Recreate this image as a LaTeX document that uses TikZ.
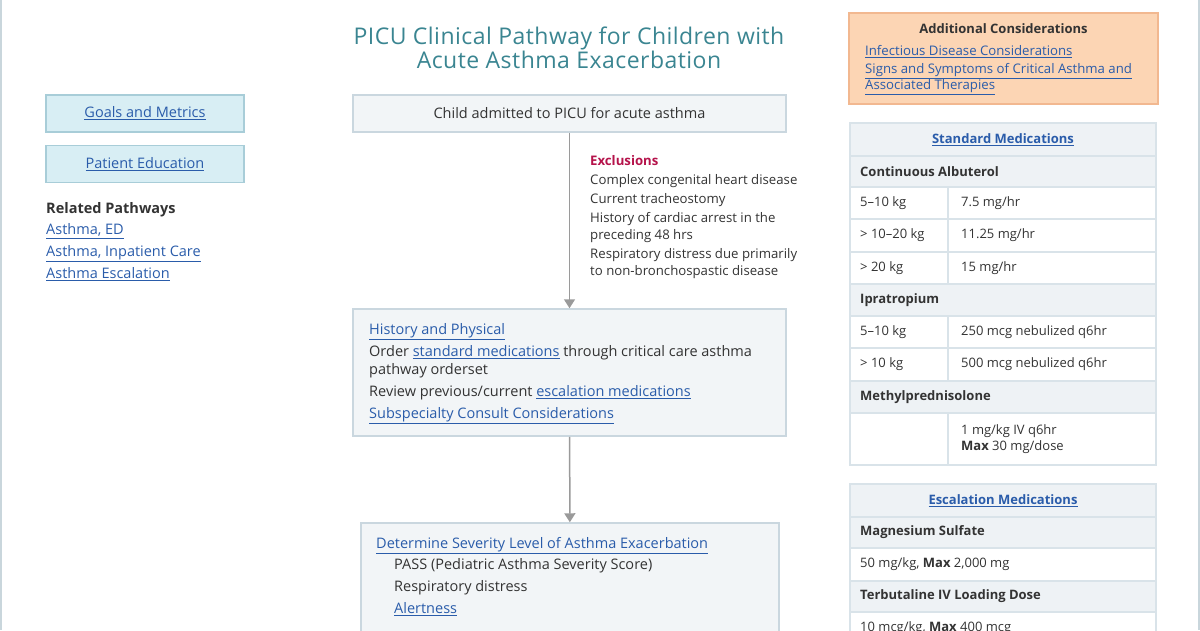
\documentclass[tikz,border=0pt]{standalone}
\usepackage{fontspec}
\setmainfont{Open Sans}
\usetikzlibrary{arrows.meta,positioning}
\definecolor{ink}{HTML}{333333}
\definecolor{linkblue}{HTML}{2A5CAA}
\definecolor{titleteal}{HTML}{3A8591}
\definecolor{navfill}{HTML}{D8EEF4}
\definecolor{navline}{HTML}{A8CDD8}
\definecolor{stepfill}{HTML}{F2F5F7}
\definecolor{stepline}{HTML}{CAD7DF}
\definecolor{peachfill}{HTML}{FCD5B4}
\definecolor{peachline}{HTML}{F2B890}
\definecolor{cellfill}{HTML}{EEF2F5}
\definecolor{cellline}{HTML}{D9E3E9}
\definecolor{arrowgray}{HTML}{9A9A9A}
\definecolor{exclred}{HTML}{B5134B}
\definecolor{pageline}{HTML}{C9D6DC}
\newcommand{\lnk}[1]{\textcolor{linkblue}{\underline{#1}}}
% table rows: name, top, bottom, ...
\newcommand{\medtitle}[4]{%
  \node[cell, fill=cellfill, minimum width=306pt, minimum height={(#3-#2)*1pt}] (#1) at (1003,{(#2+#3)/2}) {};
  \node[celltext, anchor=center] (#1-txt) at (#1) {\lnk{\textbf{#4}}};}
\newcommand{\drugrow}[4]{%
  \node[cell, fill=cellfill, minimum width=306pt, minimum height={(#3-#2)*1pt}] (#1) at (1003,{(#2+#3)/2}) {};
  \node[celltext] (#1-txt) at (860,{(#2+#3)/2}) {\textbf{#4}};}
\newcommand{\doserow}[5]{%
  \node[cell, minimum width=98pt, minimum height={(#3-#2)*1pt}] (#1-kg) at (899,{(#2+#3)/2}) {};
  \node[cell, minimum width=208pt, minimum height={(#3-#2)*1pt}] (#1-dose) at (1052,{(#2+#3)/2}) {};
  \node[celltext] (#1-kgtxt) at (860,{(#2+#3)/2}) {#4};
  \node[celltext] (#1-dosetxt) at (961,{(#2+#3)/2}) {#5};}
\newcommand{\widerow}[4]{%
  \node[cell, minimum width=306pt, minimum height={(#3-#2)*1pt}] (#1) at (1003,{(#2+#3)/2}) {};
  \node[celltext] (#1-txt) at (860,{(#2+#3)/2}) {#4};}

\begin{document}
\begin{tikzpicture}[
  x=1pt, y=-1pt,
  bodyfont/.style={font=\fontsize{14.5}{18}\selectfont},
  navbox/.style={draw=navline, fill=navfill, line width=1.5pt, minimum width=198pt,
    minimum height=37pt, inner sep=0pt, font=\fontsize{14.5}{16}\selectfont},
  stepbox/.style={draw=stepline, fill=stepfill, line width=1.5pt, inner sep=0pt, text=ink},
  txt/.style={inner sep=0pt, text=ink, align=left},
  cell/.style={draw=cellline, fill=white, line width=1.5pt, inner sep=0pt},
  celltext/.style={anchor=west, inner sep=0pt, text=ink, align=left,
    font=\fontsize{13}{16}\selectfont},
  flow/.style={-{Triangle[width=11pt,length=9pt]}, draw=arrowgray, line width=1.5pt}
]
  \useasboundingbox (0,0) rectangle (1200,630);
  \clip (0,0) rectangle (1200,630);
  % Title
  \node[txt, align=center, text=titleteal,
    font=\fontsize{23}{24}\selectfont\addfontfeature{LetterSpace=2}] (title)
    at (569,48) {PICU Clinical Pathway for Children with\\Acute Asthma Exacerbation};
  % Left column
  \node[navbox] (goals) at (145,113.5) {\lnk{Goals and Metrics}};
  \node[navbox, below=12pt of goals] (education) {\lnk{Patient Education}};
  \node[txt, anchor=north west, font=\fontsize{14.5}{21.7}\selectfont] (related) at (46,202)
    {\textbf{Related Pathways}\\\lnk{Asthma, ED}\\\lnk{Asthma, Inpatient Care}\\\lnk{Asthma Escalation}};
  % Pathway steps
  \node[stepbox, minimum width=433pt, minimum height=37pt, bodyfont] (admit)
    at (569.5,113.5) {Child admitted to PICU for acute asthma};
  \node[txt, anchor=north west, font=\fontsize{13.2}{17}\selectfont] (exclusions) at (590,155.5)
    {\textcolor{exclred}{\textbf{Exclusions}}\\[2pt]
     Complex congenital heart disease\\[2pt]
     Current tracheostomy\\[2pt]
     History of cardiac arrest in the\\preceding 48 hrs\\[2pt]
     Respiratory distress due primarily\\to non-bronchospastic disease};
  \node[stepbox, minimum width=433pt, minimum height=127pt] (history) at (569.5,372.5) {};
  \node[txt, anchor=north west, bodyfont] (historytxt) at (369,323)
    {\lnk{History and Physical}\\[4.5pt]
     Order \lnk{standard medications} through critical care asthma\\pathway orderset\\[4pt]
     Review previous/current \lnk{escalation medications}\\[4pt]
     \lnk{Subspecialty Consult Considerations}};
  \node[stepbox, minimum width=418pt, minimum height=127pt] (severity) at (570,586.5) {};
  \node[txt, anchor=north west, bodyfont] (severityhead) at (376,537)
    {\lnk{Determine Severity Level of Asthma Exacerbation}};
  \node[txt, anchor=north west, font=\fontsize{14.5}{22}\selectfont] (severitytxt) at (394,558)
    {PASS (Pediatric Asthma Severity Score)\\Respiratory distress\\\lnk{Alertness}};
  % Additional considerations
  \node[draw=peachline, fill=peachfill, line width=1.5pt, minimum width=309pt,
    minimum height=91pt, inner sep=0pt] (additional) at (1003.5,58.5) {};
  \node[txt, font=\fontsize{13}{16}\selectfont\bfseries] (additionalhead) at (1003.5,29)
    {Additional Considerations};
  \node[txt, anchor=north west, font=\fontsize{13.2}{15.5}\selectfont] (additionallinks) at (865,45.5)
    {\lnk{Infectious Disease Considerations}\\[2.5pt]
     \lnk{Signs and Symptoms of Critical Asthma and}\\\lnk{Associated Therapies}};
  % Standard medications
  \medtitle{std}{123}{156}{Standard Medications}
  \drugrow{albuterol}{156}{187}{Continuous Albuterol}
  \doserow{alb1}{187}{219}{5--10 kg}{7.5 mg/hr}
  \doserow{alb2}{219}{252}{> 10--20 kg}{11.25 mg/hr}
  \doserow{alb3}{252}{284}{> 20 kg}{15 mg/hr}
  \drugrow{ipratropium}{284}{316}{Ipratropium}
  \doserow{ipr1}{316}{348}{5--10 kg}{250 mcg nebulized q6hr}
  \doserow{ipr2}{348}{381}{> 10 kg}{500 mcg nebulized q6hr}
  \drugrow{methyl}{381}{413}{Methylprednisolone}
  \doserow{met1}{413}{465}{}{1 mg/kg IV q6hr\\\textbf{Max} 30 mg/dose}
  % Escalation medications
  \medtitle{esc}{484}{517}{Escalation Medications}
  \drugrow{magnesium}{517}{548}{Magnesium Sulfate}
  \widerow{mag1}{548}{581}{50 mg/kg, \textbf{Max} 2,000 mg}
  \drugrow{terbutaline}{581}{612}{Terbutaline IV Loading Dose}
  \widerow{ter1}{612}{645}{10 mcg/kg, \textbf{Max} 400 mcg}
  % Arrows
  \draw[flow] (admit) -- (history);
  \draw[flow] (history) -- (severity);
  % Page edges
  \draw[pageline, line width=2pt] (1,0) -- (1,630);
  \draw[pageline, line width=2pt] (1198.5,0) -- (1198.5,630);
\end{tikzpicture}
\end{document}
